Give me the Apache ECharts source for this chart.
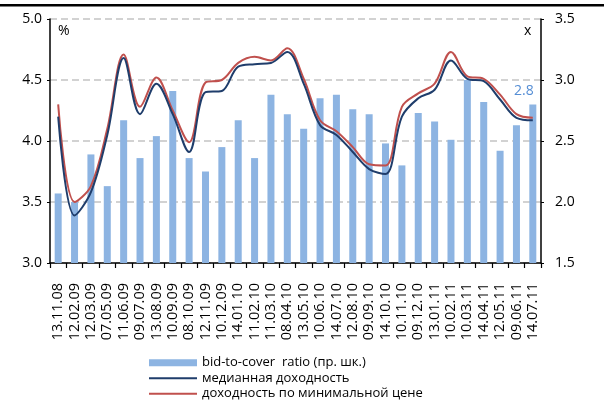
<!DOCTYPE html>
<html>
<head>
<meta charset="utf-8">
<script src="https://cdn.jsdelivr.net/npm/echarts@6/dist/echarts.min.js"></script>
<style>html,body{margin:0;padding:0;background:#fff}#c{width:604px;height:403px}</style>
</head>
<body>
<div id="c"></div>
<script>
var categories = ['13.11.08','12.02.09','12.03.09','07.05.09','11.06.09','09.07.09','13.08.09','10.09.09','08.10.09','12.11.09','10.12.09','14.01.10','11.02.10','11.03.10','08.04.10','13.05.10','10.06.10','14.07.10','12.08.10','09.09.10','14.10.10','10.11.10','09.12.10','13.01.11','10.02.11','10.03.11','14.04.11','12.05.11','09.06.11','14.07.11'];
var bidToCover = [2.07,2.00,2.39,2.13,2.67,2.36,2.54,2.91,2.36,2.25,2.45,2.67,2.36,2.88,2.72,2.60,2.85,2.88,2.76,2.72,2.48,2.30,2.73,2.66,2.51,3.00,2.82,2.42,2.63,2.80];
var medianYield = [4.20,3.39,3.58,4.05,4.68,4.22,4.47,4.22,3.91,4.40,4.41,4.61,4.63,4.64,4.73,4.47,4.13,4.05,3.91,3.77,3.73,4.20,4.35,4.42,4.66,4.51,4.49,4.34,4.19,4.17];
var minPriceYield = [4.30,3.50,3.63,4.10,4.71,4.28,4.52,4.25,3.99,4.48,4.50,4.64,4.69,4.66,4.76,4.51,4.17,4.08,3.95,3.81,3.80,4.28,4.39,4.47,4.73,4.53,4.51,4.38,4.22,4.19];
var leftTicks = {min:3.0, max:5.0, interval:0.5};
var rightTicks = {min:1.5, max:3.5, interval:0.5};
var names = ['bid-to-cover  ratio (пр. шк.)','медианная доходность','доходность по минимальной цене'];

var font = 'Open Sans';
var barData = bidToCover.map(function(v,i){
  if(i === bidToCover.length-1){
    return {value:v, label:{show:true, position:'top', offset:[-9,-1], formatter:function(p){return p.value.toFixed(1);}, color:'#558ed5', fontSize:14, fontFamily:font}};
  }
  return v;
});
var lineIcon = 'path://M0,0H49V2H0Z';

var chart = echarts.init(document.getElementById('c'), null, {renderer:'canvas'});
chart.setOption({
  animation:false,
  backgroundColor:'#fff',
  textStyle:{fontFamily:font},
  grid:{left:50, right:63, top:19, bottom:140, containLabel:false},
  legend:{
    orient:'vertical', left:149, top:356, height:60, padding:0, itemGap:2, itemWidth:48, itemHeight:7, itemTextGap:5,
    textStyle:{fontFamily:font, fontSize:13, lineHeight:13.5, color:'#000'},
    data:[{name:names[0], icon:'rect'},{name:names[1], icon:lineIcon},{name:names[2], icon:lineIcon}]
  },
  xAxis:{
    type:'category', data:categories, boundaryGap:true,
    axisLine:{lineStyle:{color:'#000', width:1.5}},
    axisTick:{show:true, interval:0, length:5, lineStyle:{color:'#000', width:1.2}},
    axisLabel:{interval:0, rotate:90, fontSize:14.5, color:'#000', fontFamily:font, margin:20}
  },
  yAxis:[
    {type:'value', min:leftTicks.min, max:leftTicks.max, interval:leftTicks.interval,
     axisLine:{show:true, lineStyle:{color:'#000', width:1.5}},
     axisTick:{show:true, length:3, lineStyle:{color:'#000'}},
     axisLabel:{formatter:function(v){return v.toFixed(1);}, fontSize:14, color:'#000', fontFamily:font, margin:8},
     splitLine:{show:true, lineStyle:{color:'#c3c3c3', width:1.5, type:[7,4]}}},
    {type:'value', min:rightTicks.min, max:rightTicks.max, interval:rightTicks.interval, position:'right',
     axisLine:{show:true, lineStyle:{color:'#000', width:1.5}},
     axisTick:{show:true, length:3, lineStyle:{color:'#000'}},
     axisLabel:{formatter:function(v){return v.toFixed(1);}, fontSize:14, color:'#000', fontFamily:font, margin:14},
     splitLine:{show:false}}
  ],
  series:[
    {name:names[0], type:'bar', yAxisIndex:1, data:barData, barWidth:7, itemStyle:{color:'#8db4e2'}, z:1},
    {name:names[1], type:'line', yAxisIndex:0, data:medianYield, smooth:0.35, symbol:'none', lineStyle:{color:'#1f3d6b', width:2}, itemStyle:{color:'#1f3d6b'}, z:3},
    {name:names[2], type:'line', yAxisIndex:0, data:minPriceYield, smooth:0.35, symbol:'none', lineStyle:{color:'#c0504d', width:2}, itemStyle:{color:'#c0504d'}, z:2}
  ],
  graphic:[
    {type:'rect', shape:{x:0, y:4, width:604, height:2.5}, style:{fill:'#000'}},
    {type:'text', left:58, top:24, style:{text:'%', fontSize:14, fontFamily:font, fill:'#000'}},
    {type:'text', left:524, top:24, style:{text:'x', fontSize:14, fontFamily:font, fill:'#000'}}
  ]
});
</script>
</body>
</html>
